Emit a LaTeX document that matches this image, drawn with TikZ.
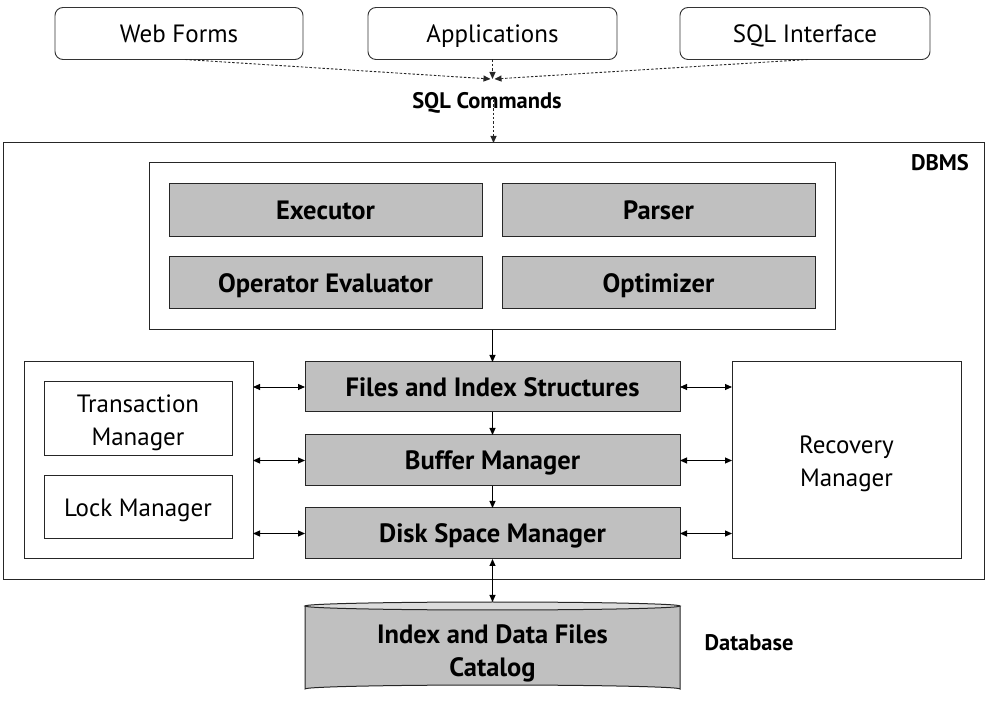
\documentclass[tikz,border=0pt]{standalone}
\usepackage{fontspec}
\setmainfont{PT Sans}
\usetikzlibrary{arrows.meta}
\definecolor{boxgray}{HTML}{C0C0C0}
\definecolor{topgray}{HTML}{DCDCDC}
\begin{document}
\begin{tikzpicture}[x=1pt,y=-1pt,
  every node/.style={inner sep=0pt,outer sep=0pt},
  tip/.style={-{Triangle[length=7pt,width=6pt]}},
  dtip/.style={{Triangle[length=7pt,width=6pt]}-{Triangle[length=7pt,width=6pt]}},
  srcbox/.style={draw=black!80,line width=0.9pt,rounded corners=8pt,minimum height=52pt,font=\fontsize{25}{30}\selectfont,text height=17.5pt,text depth=0pt},
  plainbox/.style={draw=black!85,line width=1pt,fill=white},
  greybox/.style={draw=black!85,line width=1pt,fill=boxgray,font=\fontsize{26.5}{30}\selectfont\bfseries,text height=18.5pt,text depth=0pt},
  whitebox/.style={draw=black!85,line width=1pt,fill=white,font=\fontsize{25}{30}\selectfont,text height=17.5pt,text depth=0pt},
  rtext/.style={anchor=base,font=\fontsize{25}{30}\selectfont},
  btext/.style={anchor=base,font=\fontsize{26.5}{30}\selectfont\bfseries},
  lbl/.style={font=\fontsize{22.5}{26}\selectfont\bfseries,text height=15.5pt,text depth=0pt},
  dashconn/.style={tip,dash pattern=on 2.5pt off 1.8pt,line width=0.9pt,draw=black!85},
  conn/.style={line width=0.9pt}
]
\useasboundingbox (0,0) rectangle (989,708);
% sources
\node[srcbox,minimum width=248pt] (web) at (179,33.5) {Web Forms};
\node[srcbox,minimum width=249pt] (app) at (492.5,33.5) {Applications};
\node[srcbox,minimum width=250pt] (sqli) at (805,33.5) {SQL Interface};
\coordinate (meet) at (492.5,79);
\draw[dashconn] ([xshift=6pt]web.south) -- ([xshift=-2pt]meet);
\draw[dashconn] (app.south) -- (meet);
\draw[dashconn] ([xshift=3pt]sqli.south) -- ([xshift=2pt]meet);
\node[lbl] (cmd) at (487,101) {SQL Commands};
% DBMS
\node[plainbox,minimum width=981pt,minimum height=437pt] (dbms) at (493.5,361.5) {};
\node[lbl] (dbmsl) at (940,163) {DBMS};
\draw[dashconn] ([yshift=9pt]cmd.south -| dbms.north) -- (dbms.north);
\node[plainbox,minimum width=686pt,minimum height=167pt] (inner) at (492,246.5) {};
\node[greybox,minimum width=313pt,minimum height=53pt] (exec) at (325.5,210.5) {Executor};
\node[greybox,minimum width=313pt,minimum height=53pt] (parser) at (658.5,210.5) {Parser};
\node[greybox,minimum width=313pt,minimum height=52pt] (opeval) at (325.5,283) {Operator Evaluator};
\node[greybox,minimum width=313pt,minimum height=52pt] (opt) at (658.5,283) {Optimizer};
\node[greybox,minimum width=375pt,minimum height=50pt] (files) at (492.5,387) {Files and Index Structures};
\node[greybox,minimum width=375pt,minimum height=51pt] (buffer) at (492.5,460.5) {Buffer Manager};
\node[greybox,minimum width=375pt,minimum height=51pt] (disk) at (492.5,533.5) {Disk Space Manager};
\node[plainbox,minimum width=229pt,minimum height=197pt] (left) at (138.5,460.5) {};
\node[plainbox,minimum width=188pt,minimum height=74pt] (trans) at (138,419) {};
\node[rtext] (trans1) at (138,413) {Transaction};
\node[rtext] (trans2) at (138,446) {Manager};
\node[whitebox,minimum width=188pt,minimum height=63pt] (lock) at (138,507.5) {Lock Manager};
\node[plainbox,minimum width=229pt,minimum height=197pt] (recov) at (846.5,460.5) {};
\node[rtext] (recov1) at (846.5,454) {Recovery};
\node[rtext] (recov2) at (846.5,487) {Manager};
\draw[conn,tip] (inner.south -| files.north) -- (files.north);
\draw[conn,tip] (files.south) -- (buffer.north);
\draw[conn,tip] (buffer.south) -- (disk.north);
\foreach \n in {files,buffer,disk}{
  \draw[conn,dtip] (\n.west -| left.east) -- (\n.west);
  \draw[conn,dtip] (\n.east) -- (\n.east -| recov.west);
}
% database cylinder
\fill[boxgray] (305,606) -- (305,689) arc[start angle=180,end angle=0,x radius=187.5pt,y radius=4pt] -- (680,606) arc[start angle=0,end angle=-180,x radius=187.5pt,y radius=4pt] -- cycle;
\draw[black!85,line width=1pt] (305,606) -- (305,689) arc[start angle=180,end angle=0,x radius=187.5pt,y radius=4pt] -- (680,606);
\draw[black!85,line width=1pt,fill=topgray] (492.5,606) ellipse[x radius=187.5pt,y radius=4pt];
\coordinate (cyltop) at (492.5,602);
\node[btext] (db1) at (492.5,643) {Index and Data Files};
\node[btext] (db2) at (492.5,677) {Catalog};
\draw[conn,dtip] (disk.south) -- (cyltop);
\node[lbl] (dbl) at (749,643) {Database};
\end{tikzpicture}
\end{document}
